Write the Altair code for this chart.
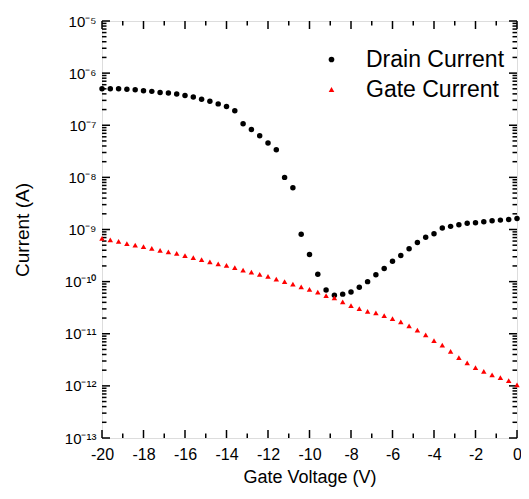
import altair as alt
import pandas as pd

# ---- data ----
gate_voltage = [round(-20 + 0.4 * i, 1) for i in range(51)]

drain_log = [
    -6.30, -6.30, -6.30, -6.31, -6.32, -6.34, -6.35, -6.37, -6.38, -6.40,
    -6.43, -6.46, -6.50, -6.54, -6.59, -6.64, -6.72, -6.97, -7.08, -7.20,
    -7.34, -7.47, -8.00, -8.20, -9.09, -9.48, -9.86, -10.16, -10.26, -10.24,
    -10.20, -10.11, -10.00, -9.87, -9.75, -9.61, -9.50, -9.37, -9.25, -9.15,
    -9.08, -8.97, -8.94, -8.91, -8.88, -8.87, -8.85, -8.83, -8.82, -8.81,
    -8.79,
]
gate_log = [
    -9.17, -9.20, -9.23, -9.27, -9.30, -9.33, -9.36, -9.40, -9.43, -9.46,
    -9.50, -9.54, -9.58, -9.62, -9.66, -9.69, -9.73, -9.78, -9.82, -9.86,
    -9.90, -9.95, -10.00, -10.05, -10.10, -10.15, -10.20, -10.27, -10.31, -10.39,
    -10.46, -10.52, -10.57, -10.60, -10.65, -10.71, -10.77, -10.85, -10.93, -11.02,
    -11.13, -11.22, -11.34, -11.46, -11.56, -11.65, -11.72, -11.79, -11.84, -11.90,
    -11.98,
]
series_names = ["Drain Current", "Gate Current"]
series_colors = ["black", "red"]
series_shapes = ["circle", "triangle-up"]

x_major = list(range(-20, 1, 2))
x_minor = list(range(-19, 0, 2))
y_exponents = list(range(-13, -4))
y_tick_labels = ["10⁻¹³", "10⁻¹²", "10⁻¹¹", "10⁻¹⁰", "10⁻⁹", "10⁻⁸", "10⁻⁷", "10⁻⁶", "10⁻⁵"]
y_major = [10.0 ** e for e in y_exponents]
y_minor = [k * 10.0 ** e for e in y_exponents[:-1] for k in range(2, 10)]

rows = []
for v, d in zip(gate_voltage, drain_log):
    rows.append({"V": v, "I": 10.0 ** d, "series": series_names[0]})
for v, g in zip(gate_voltage, gate_log):
    rows.append({"V": v, "I": 10.0 ** g, "series": series_names[1]})
df = pd.DataFrame(rows)

W, H = 415, 417
FONT = "Liberation Sans"

xscale = alt.Scale(domain=[-20, 0], nice=False, zero=False)
yscale = alt.Scale(type="log", domain=[1e-13, 1e-5], nice=False)

label_arr = "[" + ",".join("'" + s + "'" for s in y_tick_labels) + "]"

points = alt.Chart(df).mark_point(filled=True, size=30, opacity=1).encode(
    x=alt.X("V:Q", scale=xscale,
            axis=alt.Axis(values=x_major, labelExpr="'' + datum.value",
                          ticks=False, domain=False, grid=False,
                          labelFontSize=16, labelPadding=8, labelFont=FONT,
                          labelColor="black", labelFlush=False,
                          title="Gate Voltage (V)", titleFontSize=18,
                          titleFont=FONT, titleFontWeight="normal",
                          titleColor="black", titlePadding=6)),
    y=alt.Y("I:Q", scale=yscale,
            axis=alt.Axis(values=y_major,
                          labelExpr=label_arr + "[round(log(datum.value)/LN10)+13]",
                          ticks=False, domain=False, grid=False,
                          labelFontSize=15, labelPadding=6, labelFont=FONT,
                          labelColor="black", labelFlush=False,
                          title="Current (A)", titleFontSize=19,
                          titleFont=FONT, titleFontWeight="normal",
                          titleColor="black", titlePadding=32)),
    color=alt.Color("series:N",
                    scale=alt.Scale(domain=series_names, range=series_colors),
                    legend=alt.Legend(title=None, orient="none", legendX=218,
                                      legendY=27, labelFontSize=23, labelFont=FONT,
                                      labelColor="black", labelOffset=23,
                                      symbolSize=32, rowPadding=6, padding=0,
                                      symbolStrokeWidth=0)),
    shape=alt.Shape("series:N",
                    scale=alt.Scale(domain=series_names, range=series_shapes),
                    legend=None),
)

def xticks(vals, length, top):
    d = pd.DataFrame({"v": vals})
    if top:
        y1, y2 = alt.value(0), alt.value(length)
    else:
        y1, y2 = alt.value(H - length), alt.value(H)
    return alt.Chart(d).mark_rule(color="black", strokeWidth=1.5).encode(
        x=alt.X("v:Q", scale=xscale), y=y1, y2=y2)

def yticks(vals, length, left):
    d = pd.DataFrame({"v": vals})
    if left:
        x1, x2 = alt.value(0), alt.value(length)
    else:
        x1, x2 = alt.value(W - length), alt.value(W)
    return alt.Chart(d).mark_rule(color="black", strokeWidth=1.5).encode(
        y=alt.Y("v:Q", scale=yscale), x=x1, x2=x2)

ticks = [
    xticks(x_major, 8, False), xticks(x_minor, 4.5, False),
    xticks(x_major, 8, True), xticks(x_minor, 4.5, True),
    yticks(y_major, 8, True), yticks(y_minor, 4.5, True),
    yticks(y_major, 8, False), yticks(y_minor, 4.5, False),
]

chart = alt.layer(*ticks, points).properties(
    width=W, height=H,
    autosize=alt.AutoSizeParams(type="none"),
    padding={"left": 94, "top": 13, "right": 4, "bottom": 50},
).configure_view(stroke="black", strokeWidth=2).configure(background="white")

chart.save("out.html", embed_options={"renderer": "svg", "actions": False})
